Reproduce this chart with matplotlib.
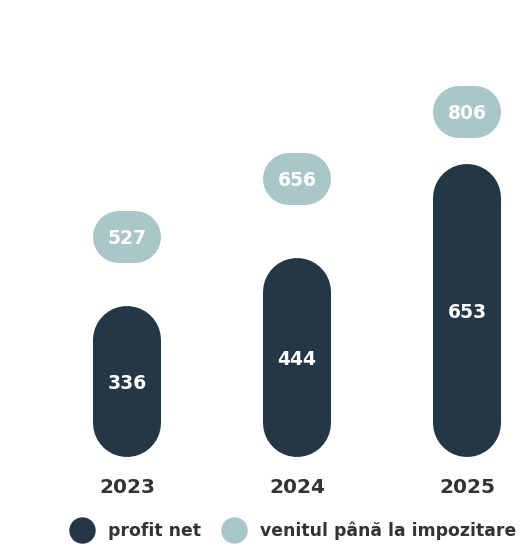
import matplotlib
matplotlib.use("Agg")
import matplotlib.pyplot as plt
import matplotlib.transforms as mtransforms
from matplotlib.lines import Line2D

# Data
years = ["2023", "2024", "2025"]
profit_net = [336, 444, 653]
venit_pre_tax = [527, 656, 806]

DARK = "#243746"
LIGHT = "#a9c6c9"
TEXT = "#333333"

W, H, DPI = 529, 549, 100
PX_PER_UNIT = 0.449   # vertical scale, pixels per value unit
X_STEP = 170          # pixels between bar centres
BAR_W = 68            # bar width in px
PILL_W, PILL_H = 68, 52

fig = plt.figure(figsize=(W / DPI, H / DPI), dpi=DPI)
base_px = 92
ax = fig.add_axes([0, base_px / H, 1, 1 - base_px / H])
ax.set_ylim(0, (H - base_px) / PX_PER_UNIT)
ax.set_xlim(-127 / X_STEP, (W - 127) / X_STEP)
ax.axis("off")

pt = 72 / DPI  # points per pixel
r = BAR_W / 2 / PX_PER_UNIT
x = list(range(len(years)))

# dark rounded bars (round caps give the pill shape)
for xi, v in zip(x, profit_net):
    ax.plot([xi, xi], [r, v - r], color=DARK, lw=BAR_W * pt,
            solid_capstyle="round", zorder=2)
    ax.text(xi, v / 2, str(v), color="white", fontsize=13.5, fontweight="bold",
            ha="center", va="center_baseline", zorder=3)

# light pills carrying the pre-tax value
pill_tr = mtransforms.offset_copy(ax.transData, fig=fig, x=0, y=-16.5, units="dots")
half = (PILL_W - PILL_H) / 2 / X_STEP
for xi, v in zip(x, venit_pre_tax):
    ax.plot([xi - half, xi + half], [v, v], color=LIGHT, lw=PILL_H * pt,
            solid_capstyle="round", transform=pill_tr, zorder=2)
    ax.text(xi, v, str(v), color="white", fontsize=13.5, fontweight="bold",
            ha="center", va="center_baseline", transform=pill_tr, zorder=3)

# year labels below bars
year_tr = mtransforms.offset_copy(ax.transData, fig=fig, x=0, y=-36, units="dots")
for xi, yr in zip(x, years):
    ax.text(xi, 0, yr, color=TEXT, fontsize=14.5, fontweight="bold",
            ha="center", va="baseline", transform=year_tr, clip_on=False)

handles = [
    Line2D([], [], ls="none", marker="o", markersize=25 * pt, color=DARK),
    Line2D([], [], ls="none", marker="o", markersize=25 * pt, color=LIGHT),
]
leg = fig.legend(handles, ["profit net", "venitul până la impozitare"],
                 loc="center", bbox_to_anchor=(293 / W, 18 / H), ncol=2,
                 frameon=False, handlelength=1.4, handletextpad=0.8,
                 columnspacing=1.2, borderpad=0, borderaxespad=0,
                 prop={"size": 12.4, "weight": "bold"})
for t in leg.get_texts():
    t.set_color(TEXT)

fig.savefig("out.png", dpi=DPI)
